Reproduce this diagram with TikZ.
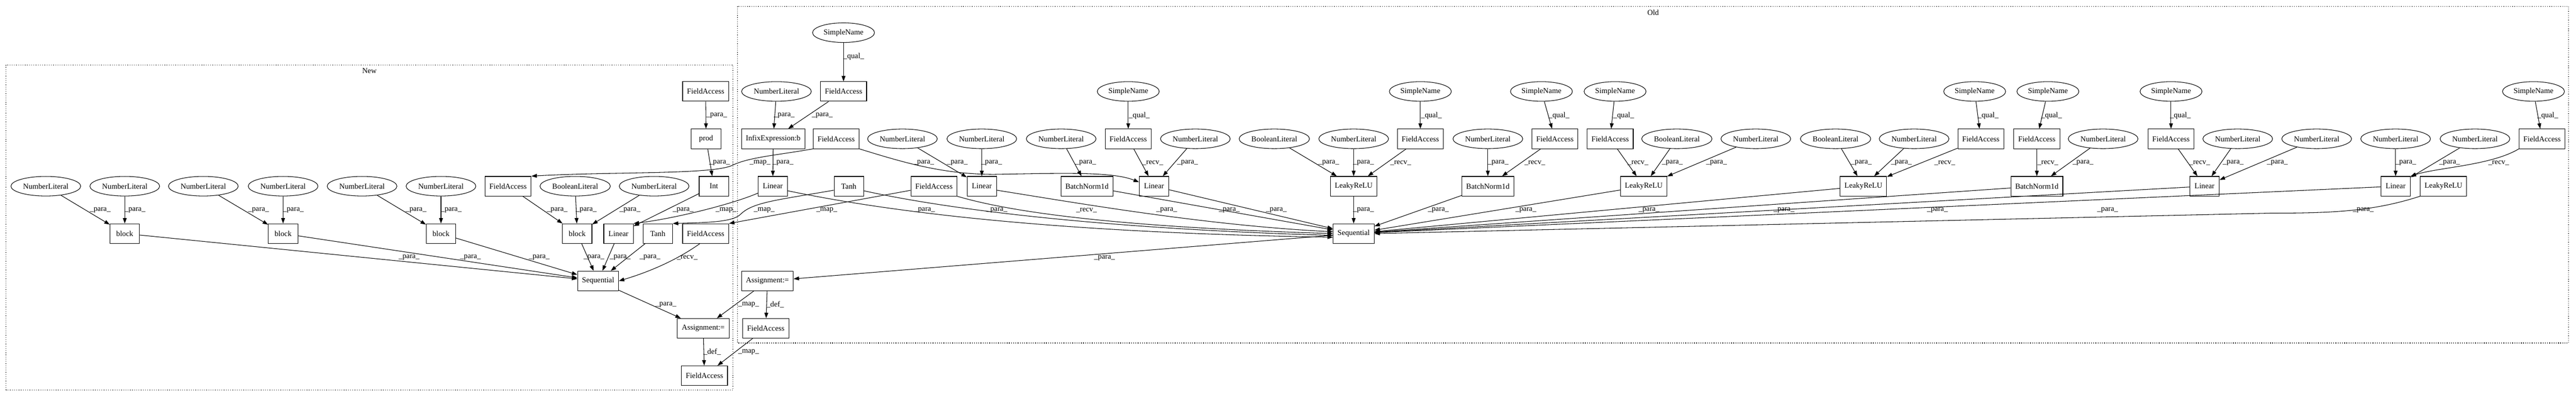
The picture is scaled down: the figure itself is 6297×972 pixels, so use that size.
\documentclass[tikz,border=0pt]{standalone}
\usepackage{fontspec}
\setmainfont{Liberation Serif}
\usetikzlibrary{shapes.geometric,arrows.meta}
\newcommand\Lpara{\_para\_}
\newcommand\Lmap{\_map\_}
\newcommand\Lrecv{\_recv\_}
\newcommand\Lqual{\_qual\_}
\newcommand\Ldef{\_def\_}
\tikzset{
  every node/.style={font=\fontsize{14}{16}\selectfont},
  box/.style={draw, line width=1pt, rectangle, minimum height=36pt, minimum width=54pt, inner xsep=8pt, inner ysep=0pt},
  ell/.style={draw, line width=1pt, ellipse, minimum height=36pt, inner xsep=3.6pt, inner ysep=0pt},
  e/.style={draw, line width=1pt, -{Triangle[length=10pt,width=7pt]}},
  lab/.style={inner sep=0pt},
  clus/.style={draw, line width=1pt, dash pattern=on 1.2pt off 2.8pt},
}
\begin{document}
\begin{tikzpicture}[x=0.75pt,y=-0.75pt]
\useasboundingbox (0,0) rectangle (6297,972);
% clusters
\draw[clus] (15,159) rectangle (1792,955);
\draw[clus] (1803,15.5) rectangle (6279,840);
\node (lnew) at (903,174) {New};
\node (lold) at (4041,31) {Old};

% ---------- New ----------
\node[ell] (n_nl1) at (112,456) {NumberLiteral};
\node[ell] (n_nl2) at (305,456) {NumberLiteral};
\node[ell] (n_nl3) at (497,456) {NumberLiteral};
\node[ell] (n_nl4) at (692,456) {NumberLiteral};
\node[ell] (n_nl5) at (885,456) {NumberLiteral};
\node[ell] (n_nl6) at (1078,456) {NumberLiteral};
\node[box] (n_fa1) at (1242,456) {FieldAccess};
\node[ell] (n_bl) at (1406,456) {BooleanLiteral};
\node[ell] (n_nl7) at (1599,456) {NumberLiteral};
\node[box] (n_int) at (1745,456) {Int};
\node[box] (n_fa0) at (1725,224) {FieldAccess};
\node[box] (n_prod) at (1726,340) {prod};
\node[box] (n_b1) at (305,572) {block};
\node[box] (n_b2) at (692,572) {block};
\node[box] (n_b3) at (1078,572) {block};
\node[box] (n_b4) at (1411,572) {block};
\node[box] (n_lin) at (1512,572) {Linear};
\node[box] (n_tanh) at (1608,572) {Tanh};
\node[box] (n_fa2) at (1725,572) {FieldAccess};
\node[box] (n_seq) at (1462,688) {Sequential};
\node[box] (n_asg) at (1719,804) {Assignment:=};
\node[box] (n_fa3) at (1722,920) {FieldAccess};

% ---------- Old ----------
\node[ell] (o_sn1) at (2062,80) {SimpleName};
\node[ell] (o_nl1) at (1898,224) {NumberLiteral};
\node[box] (o_fa1) at (2062,224) {FieldAccess};
\node[box] (o_inf) at (1890,340) {InfixExpression:b};
\node[box] (o_fa2) at (2044,340) {FieldAccess};
\node[ell] (o_nl2) at (2206,340) {NumberLiteral};
\node[ell] (o_nl3) at (2400,340) {NumberLiteral};
\node[ell] (o_nl4) at (2594,340) {NumberLiteral};
\node[ell] (o_sn2) at (2758,224) {SimpleName};
\node[box] (o_fa3) at (2758,340) {FieldAccess};
\node[ell] (o_nl5) at (2922,340) {NumberLiteral};
\node[ell] (o_bl1) at (3115,340) {BooleanLiteral};
\node[ell] (o_nl6) at (3309,340) {NumberLiteral};
\node[ell] (o_sn3) at (3472,224) {SimpleName};
\node[box] (o_fa4) at (3472,340) {FieldAccess};
\node[ell] (o_nl7) at (3637,340) {NumberLiteral};
\node[ell] (o_sn4) at (3768,224) {SimpleName};
\node[box] (o_fa5) at (3801,340) {FieldAccess};
\node[ell] (o_sn5) at (3948,224) {SimpleName};
\node[box] (o_fa6) at (3936,340) {FieldAccess};
\node[ell] (o_bl2) at (4099,340) {BooleanLiteral};
\node[ell] (o_nl8) at (4292,340) {NumberLiteral};
\node[ell] (o_bl3) at (4487,340) {BooleanLiteral};
\node[ell] (o_nl9) at (4679,340) {NumberLiteral};
\node[ell] (o_sn6) at (4827,224) {SimpleName};
\node[box] (o_fa7) at (4842,340) {FieldAccess};
\node[ell] (o_sn7) at (5006,224) {SimpleName};
\node[box] (o_fa8) at (4979,340) {FieldAccess};
\node[ell] (o_nl10) at (5141,340) {NumberLiteral};
\node[ell] (o_sn8) at (5307,224) {SimpleName};
\node[box] (o_fa9) at (5307,340) {FieldAccess};
\node[ell] (o_nl11) at (5470,340) {NumberLiteral};
\node[ell] (o_nl12) at (5663,340) {NumberLiteral};
\node[ell] (o_nl13) at (5856,340) {NumberLiteral};
\node[ell] (o_nl14) at (6050,340) {NumberLiteral};
\node[ell] (o_sn9) at (6193,224) {SimpleName};
\node[box] (o_fa10) at (6214,340) {FieldAccess};
\node[box] (o_lin1) at (1889,456) {Linear};
\node[box] (o_tanh) at (2075,456) {Tanh};
\node[box] (o_fa11) at (2283,456) {FieldAccess};
\node[box] (o_lin2) at (2400,456) {Linear};
\node[box] (o_bn1) at (2657,456) {BatchNorm1d};
\node[box] (o_lin3) at (2821,456) {Linear};
\node[box] (o_lr1) at (3309,456) {LeakyReLU};
\node[box] (o_bn2) at (3637,456) {BatchNorm1d};
\node[box] (o_lr2) at (4018,456) {LeakyReLU};
\node[box] (o_lr3) at (4555,456) {LeakyReLU};
\node[box] (o_bn3) at (4979,456) {BatchNorm1d};
\node[box] (o_lin4) at (5389,456) {Linear};
\node[box] (o_lin5) at (5856,456) {Linear};
\node[box] (o_lr4) at (5973,456) {LeakyReLU};
\node[box] (o_seq) at (3309,572) {Sequential};
\node[box] (o_asg) at (1876,688) {Assignment:=};
\node[box] (o_fa12) at (1872,804) {FieldAccess};

% ---------- New edges ----------
\draw[e] (n_nl1) -- (n_b1) node[lab] at (245,515) {\Lpara};
\draw[e] (n_nl2) -- (n_b1) node[lab] at (330,515) {\Lpara};
\draw[e] (n_nl3) -- (n_b2) node[lab] at (632,515) {\Lpara};
\draw[e] (n_nl4) -- (n_b2) node[lab] at (717,515) {\Lpara};
\draw[e] (n_nl5) -- (n_b3) node[lab] at (1017,515) {\Lpara};
\draw[e] (n_nl6) -- (n_b3) node[lab] at (1103,515) {\Lpara};
\draw[e] (n_fa1) -- (n_b4) node[lab] at (1362,515) {\Lpara};
\draw[e] (n_bl) -- (n_b4) node[lab] at (1433,515) {\Lpara};
\draw[e] (n_nl7) -- (n_b4) node[lab] at (1540,515) {\Lpara};
\draw[e] (n_fa0) -- (n_prod) node[lab] at (1752,283) {\Lpara};
\draw[e] (n_prod) -- (n_int) node[lab] at (1759,399) {\Lpara};
\draw[e] (n_int) -- (n_lin) node[lab] at (1670,515) {\Lpara};
\draw[e] (n_b1) -- (n_seq) node[lab] at (1000,631) {\Lpara};
\draw[e] (n_b2) -- (n_seq) node[lab] at (1150,631) {\Lpara};
\draw[e] (n_b3) -- (n_seq) node[lab] at (1318,631) {\Lpara};
\draw[e] (n_b4) -- (n_seq) node[lab] at (1452,631) {\Lpara};
\draw[e] (n_lin) -- (n_seq) node[lab] at (1516,631) {\Lpara};
\draw[e] (n_tanh) -- (n_seq) node[lab] at (1589,631) {\Lpara};
\draw[e] (n_fa2.-120) .. controls (1650,640) and (1580,668) .. (n_seq.east) node[lab] at (1680,631) {\Lrecv};
\draw[e] (n_seq) -- (n_asg) node[lab] at (1628,746) {\Lpara};
\draw[e] (n_asg) -- (n_fa3) node[lab] at (1741,862) {\Ldef};

% ---------- cross edges ----------
\draw[e] (o_asg) -- (n_asg) node[lab] at (1830,746) {\Lmap};
\draw[e] (o_asg) -- (o_fa12) node[lab] at (1895,746) {\Ldef};
\draw[e] (o_fa12) -- (n_fa3) node[lab] at (1830,862) {\Lmap};
\draw[e] (o_seq) -- (o_asg) node[lab] at (2700,632) {\Lpara};
\draw[e] (o_fa2.south west) .. controls (1900,380) and (1830,385) .. (1790,405) .. controls (1740,428) and (1500,420) .. (n_fa1.north east) node[lab] at (1858,399) {\Lmap};
\draw[e] (o_lin1.-155) .. controls (1790,500) and (1650,535) .. (n_lin.north east) node[lab] at (1775,515) {\Lmap};
\draw[e] (o_tanh.-165) .. controls (1900,490) and (1840,495) .. (1810,525) .. controls (1790,545) and (1720,545) .. (n_tanh.north east) node[lab] at (1868,515) {\Lmap};
\draw[e] (o_fa11.-170) -- (n_fa2.north east) node[lab] at (2021,515) {\Lmap};

% ---------- Old edges ----------
\draw[e] (o_sn1) -- (o_fa1) node[lab] at (2087,139) {\Lqual};
\draw[e] (o_nl1) -- (o_inf) node[lab] at (1917,283) {\Lpara};
\draw[e] (o_fa1) -- (o_inf) node[lab] at (2010,283) {\Lpara};
\draw[e] (o_inf) -- (o_lin1) node[lab] at (1914,399) {\Lpara};
\draw[e] (o_fa2.south east) .. controls (2200,395) and (2300,427) .. (2430,427) .. controls (2600,424) and (2720,420) .. (o_lin3.165) node[lab] at (2258,399) {\Lpara};
\draw[e] (o_nl2) -- (o_lin2) node[lab] at (2340,399) {\Lpara};
\draw[e] (o_nl3) -- (o_lin2) node[lab] at (2424,399) {\Lpara};
\draw[e] (o_nl4) -- (o_bn1) node[lab] at (2654,399) {\Lpara};
\draw[e] (o_sn2) -- (o_fa3) node[lab] at (2785,283) {\Lqual};
\draw[e] (o_fa3) -- (o_lin3) node[lab] at (2818,399) {\Lrecv};
\draw[e] (o_nl5) -- (o_lin3) node[lab] at (2903,399) {\Lpara};
\draw[e] (o_bl1) -- (o_lr1) node[lab] at (3248,399) {\Lpara};
\draw[e] (o_nl6) -- (o_lr1) node[lab] at (3333,399) {\Lpara};
\draw[e] (o_fa4) -- (o_lr1) node[lab] at (3424,399) {\Lrecv};
\draw[e] (o_sn3) -- (o_fa4) node[lab] at (3499,283) {\Lqual};
\draw[e] (o_nl7) -- (o_bn2) node[lab] at (3662,399) {\Lpara};
\draw[e] (o_fa5) -- (o_bn2) node[lab] at (3752,399) {\Lrecv};
\draw[e] (o_sn4) -- (o_fa5) node[lab] at (3811,283) {\Lqual};
\draw[e] (o_sn5) -- (o_fa6) node[lab] at (3969,283) {\Lqual};
\draw[e] (o_fa6) -- (o_lr2) node[lab] at (4004,399) {\Lrecv};
\draw[e] (o_bl2) -- (o_lr2) node[lab] at (4088,399) {\Lpara};
\draw[e] (o_nl8) -- (o_lr2) node[lab] at (4196,399) {\Lpara};
\draw[e] (o_bl3) -- (o_lr3) node[lab] at (4550,399) {\Lpara};
\draw[e] (o_nl9) -- (o_lr3) node[lab] at (4648,399) {\Lpara};
\draw[e] (o_fa7) -- (o_lr3) node[lab] at (4754,399) {\Lrecv};
\draw[e] (o_sn6) -- (o_fa7) node[lab] at (4860,283) {\Lqual};
\draw[e] (o_sn7) -- (o_fa8) node[lab] at (5015,283) {\Lqual};
\draw[e] (o_fa8) -- (o_bn3) node[lab] at (5006,399) {\Lrecv};
\draw[e] (o_nl10) -- (o_bn3) node[lab] at (5092,399) {\Lpara};
\draw[e] (o_sn8) -- (o_fa9) node[lab] at (5330,283) {\Lqual};
\draw[e] (o_fa9) -- (o_lin4) node[lab] at (5377,399) {\Lrecv};
\draw[e] (o_nl11) -- (o_lin4) node[lab] at (5459,399) {\Lpara};
\draw[e] (o_nl12) -- (o_lin4) node[lab] at (5567,399) {\Lpara};
\draw[e] (o_nl13) -- (o_lin5) node[lab] at (5881,399) {\Lpara};
\draw[e] (o_nl14) -- (o_lin5) node[lab] at (5988,399) {\Lpara};
\draw[e] (o_fa10.south west) .. controls (6090,405) and (5960,410) .. (o_lin5.north east) node[lab] at (6108,399) {\Lrecv};
\draw[e] (o_sn9) -- (o_fa10) node[lab] at (6228,283) {\Lqual};

% row 4 -> Sequential
\draw[e] (o_lin1.-17) .. controls (2250,535) and (2700,572) .. (o_seq.190) node[lab] at (2260,515) {\Lpara};
\draw[e] (o_tanh.-17) .. controls (2350,520) and (2750,562) .. (o_seq.185) node[lab] at (2437,515) {\Lpara};
\draw[e] (o_fa11.south east) .. controls (2500,528) and (2800,558) .. (o_seq.180) node[lab] at (2656,515) {\Lrecv};
\draw[e] (o_lin2.-15) .. controls (2650,500) and (2950,552) .. (o_seq.175) node[lab] at (2852,515) {\Lpara};
\draw[e] (o_bn1) -- (o_seq) node[lab] at (3005,515) {\Lpara};
\draw[e] (o_lin3) -- (o_seq) node[lab] at (3120,515) {\Lpara};
\draw[e] (o_lr1) -- (o_seq) node[lab] at (3333,515) {\Lpara};
\draw[e] (o_bn2) -- (o_seq) node[lab] at (3516,515) {\Lpara};
\draw[e] (o_lr2) -- (o_seq) node[lab] at (3730,515) {\Lpara};
\draw[e] (o_lr3) -- (o_seq) node[lab] at (4031,515) {\Lpara};
\draw[e] (o_bn3) -- (o_seq) node[lab] at (4361,515) {\Lpara};
\draw[e] (o_lin4) -- (o_seq) node[lab] at (4736,515) {\Lpara};
\draw[e] (o_lin5) -- (o_seq) node[lab] at (5152,515) {\Lpara};
\draw[e] (o_lr4.south west) .. controls (5800,518) and (5700,522) .. (5550,522) -- (o_seq.east) node[lab] at (5777,515) {\Lpara};
\end{tikzpicture}
\end{document}
